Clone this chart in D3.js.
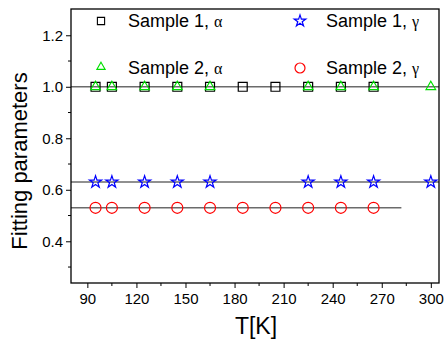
<!DOCTYPE html>
<html><head><meta charset="utf-8">
<script src="https://cdn.jsdelivr.net/npm/d3@7"></script>
<style>body{margin:0;background:#fff}svg{display:block}</style>
</head><body>
<svg id="c" width="444" height="341"></svg>
<script>
const s1aT = [95,105,125,145,165,185,205,225,245,265];
const s1aV = [1,1,1,1,1,1,1,1,1,1];
const s2aT = [95,105,125,145,165,225,245,265,300];
const s2aV = [1,1,1,1,1,1,1,1,1];
const s1gT = [95,105,125,145,165,225,245,265,300];
const s1gV = [0.63,0.63,0.63,0.63,0.63,0.63,0.63,0.63,0.63];
const s2gT = [95,105,125,145,165,185,205,225,245,265];
const s2gV = [0.53,0.53,0.53,0.53,0.53,0.53,0.53,0.53,0.53,0.53];
const fitLines = [{v:1.0,from:80,to:305},{v:0.63,from:80,to:305},{v:0.53,from:80,to:282}];
const xTicks = [90,120,150,180,210,240,270,300];
const yTicks = [0.4,0.6,0.8,1.0,1.2];

const svg = d3.select("#c");
const L=71,R=439,T=9,B=283;
const x = d3.scaleLinear().domain([80,305]).range([L,R]);
const y = d3.scaleLinear().domain([0.238,1.302]).range([B,T]);
const font="'Liberation Sans', Arial, sans-serif";

// fit lines
svg.append("g").selectAll("line").data(fitLines).join("line")
  .attr("x1",d=>x(d.from)).attr("x2",d=>x(d.to))
  .attr("y1",d=>y(d.v)).attr("y2",d=>y(d.v))
  .attr("stroke","#6b6b6b").attr("stroke-width",1.6);

// frame
svg.append("rect").attr("x",L).attr("y",T).attr("width",R-L).attr("height",B-T)
  .attr("fill","none").attr("stroke","#000").attr("stroke-width",1.3);

// axes
const xa = svg.append("g").attr("transform",`translate(0,${B})`)
  .call(d3.axisBottom(x).tickValues(xTicks).tickFormat(d3.format("d")).tickSize(5).tickPadding(5));
xa.append("g").selectAll("line").data(d3.range(105,305,30)).join("line")
  .attr("x1",d=>x(d)).attr("x2",d=>x(d)).attr("y1",0).attr("y2",3).attr("stroke","#000");
const ya = svg.append("g").attr("transform",`translate(${L},0)`)
  .call(d3.axisLeft(y).tickValues(yTicks).tickFormat(d3.format(".1f")).tickSize(5).tickPadding(3));
ya.append("g").selectAll("line").data([0.3,0.5,0.7,0.9,1.1]).join("line")
  .attr("y1",d=>y(d)).attr("y2",d=>y(d)).attr("x1",0).attr("x2",-3).attr("stroke","#000");
[xa,ya].forEach(a=>{a.select(".domain").remove();
  a.selectAll("text").attr("font-family",font).attr("font-size",15).attr("fill","#000");
  a.selectAll("line").attr("stroke","#000");});

// titles
svg.append("text").attr("x",256).attr("y",334).attr("text-anchor","middle")
  .attr("font-family",font).attr("font-size",23).text("T[K]");
svg.append("text").attr("transform",`translate(27,161) rotate(-90)`).attr("text-anchor","middle")
  .attr("font-family",font).attr("font-size",22).text("Fitting parameters");

// markers
const sq = d3.symbol().type(d3.symbolSquare).size(80)();
const tri = d3.symbol().type(d3.symbolTriangle).size(40)();
const star = d3.symbol().type(d3.symbolStar).size(46)();
function pts(tArr,vArr,path,color,sw){
  svg.append("g").selectAll("path").data(tArr.map((t,i)=>[t,vArr[i]])).join("path")
    .attr("d",path).attr("transform",d=>`translate(${x(d[0])},${y(d[1])})`)
    .attr("fill","none").attr("stroke",color).attr("stroke-width",sw);
}
pts(s1aT,s1aV,sq,"#000",1.2);
pts(s2aT,s2aV,tri,"#00e000",1.2);
pts(s1gT,s1gV,star,"#0000ff",1.2);
svg.append("g").selectAll("circle").data(s2gT.map((t,i)=>[t,s2gV[i]])).join("circle")
  .attr("cx",d=>x(d[0])).attr("cy",d=>y(d[1])).attr("r",5.5)
  .attr("fill","none").attr("stroke","#ff0000").attr("stroke-width",1.2);

// legend
const lg = svg.append("g");
const legend=[
  {x:101,y:21,tx:128,ty:27,label:"Sample 1, ",g:"α",kind:"sq"},
  {x:101,y:67,tx:128,ty:74,label:"Sample 2, ",g:"α",kind:"tri"},
  {x:300,y:21,tx:326,ty:27,label:"Sample 1, ",g:"γ",kind:"star"},
  {x:300,y:68,tx:326,ty:74,label:"Sample 2, ",g:"γ",kind:"circ"}];
legend.forEach(d=>{
  if(d.kind==="sq") lg.append("path").attr("d",d3.symbol().type(d3.symbolSquare).size(52)()).attr("transform",`translate(${d.x},${d.y})`).attr("fill","none").attr("stroke","#000").attr("stroke-width",1.1);
  if(d.kind==="tri") lg.append("path").attr("d",d3.symbol().type(d3.symbolTriangle).size(30)()).attr("transform",`translate(${d.x},${d.y})`).attr("fill","none").attr("stroke","#00e000").attr("stroke-width",1.1);
  if(d.kind==="star") lg.append("path").attr("d",d3.symbol().type(d3.symbolStar).size(42)()).attr("transform",`translate(${d.x},${d.y})`).attr("fill","none").attr("stroke","#0000ff").attr("stroke-width",1.2);
  if(d.kind==="circ") lg.append("circle").attr("cx",d.x).attr("cy",d.y).attr("r",5).attr("fill","none").attr("stroke","#ff0000").attr("stroke-width",1.2);
  const t=lg.append("text").attr("x",d.tx).attr("y",d.ty).attr("font-family",font).attr("font-size",18).text(d.label);
  t.append("tspan").attr("font-family","'Liberation Serif', serif").attr("font-size",16).text(d.g);
});
</script>
</body></html>
